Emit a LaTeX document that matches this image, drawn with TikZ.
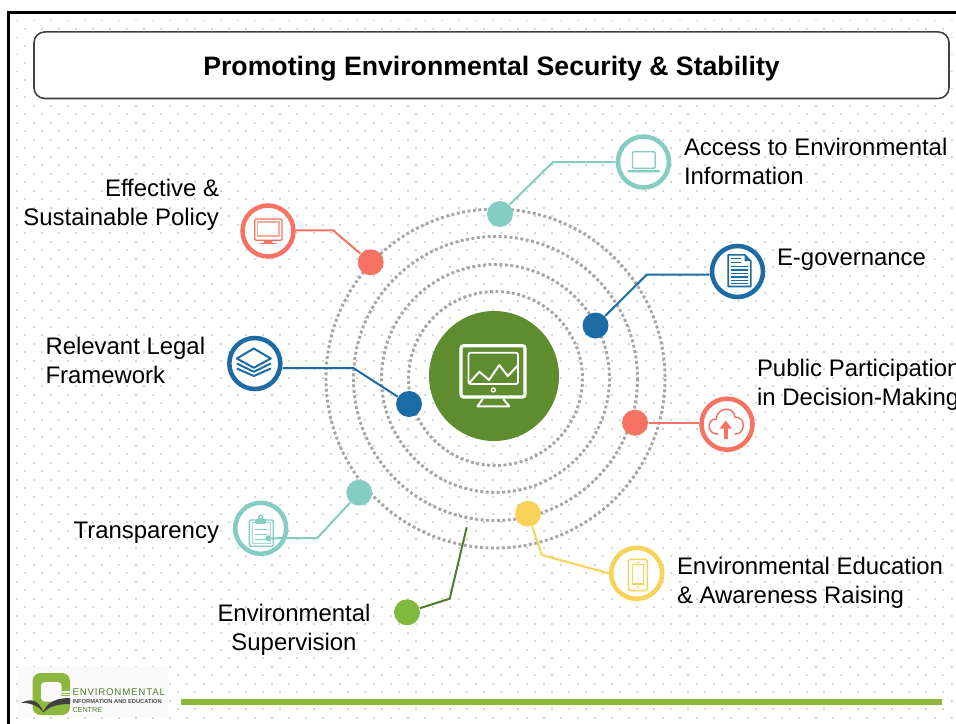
\documentclass[tikz,border=0pt]{standalone}
\usepackage{fontspec}
\setmainfont{Liberation Sans}
\definecolor{ringgray}{RGB}{166,166,166}
\definecolor{dotgray}{RGB}{214,214,214}
\definecolor{coralc}{RGB}{246,115,100}
\definecolor{tealc}{RGB}{133,204,195}
\definecolor{bluec}{RGB}{29,107,165}
\definecolor{yellowc}{RGB}{249,210,90}
\definecolor{hubgreen}{RGB}{95,140,47}
\definecolor{leafgreen}{RGB}{127,186,62}
\definecolor{stemgreen}{RGB}{78,125,46}
\definecolor{bargreen}{RGB}{141,183,63}
\tikzset{every picture/.style={line width=0.75pt}}
\tikzset{
  hubdot/.style={circle,inner sep=0pt,minimum size=26pt*0.75,fill=#1},
  iconring/.style={circle,inner sep=0pt,minimum size=51pt*0.75,fill=white,draw=#1,line width=3.4pt},
  linkline/.style={draw=#1,line width=1.5pt},
  orbit/.style={draw=ringgray,line width=2.2pt,dash pattern=on 2.2pt off 1.9pt},
  itemtext/.style={font=\fontsize{17.95}{21.75}\selectfont,inner sep=0pt,text=black},
}
\begin{document}
\begin{tikzpicture}[x=0.75pt,y=0.75pt,yscale=-1,xscale=1]
        \useasboundingbox (0,0) rectangle (956,724);
        %Background dots
        \foreach \row in {0,...,82} {
          \pgfmathsetmacro{\rowy}{20.7+8.5*\row}
          \pgfmathsetmacro{\rowx}{16.7+8.5*mod(\row,2)}
          \foreach \col in {0,...,55} {
            \fill [dotgray] ({\rowx+17*\col-0.8},{\rowy-0.8}) rectangle ++(1.6,1.6);
          }
        }
        %Page frame
        \draw [line width=2.2pt] (8.5,724) -- (8.5,12.3) -- (956,12.3);
        %Title box
        \node (titlebox) [draw=black!75,line width=1.2pt,fill=white,rounded corners=8pt,inner sep=0pt,minimum width=915*0.75pt,minimum height=66.5*0.75pt,text height=19pt,text depth=4pt,font=\fontsize{20}{24}\selectfont\bfseries] at (491.5,65.2) {Promoting Environmental Security \& Stability};
        %Orbits
        \foreach \rad in {169.5,142,114,87} {
          \draw [orbit] (495.5,378.5) circle ({\rad});
        }
        %Hub
        \node (hub) [circle,inner sep=0pt,minimum size=130*0.75pt,fill=hubgreen] at (494,376) {};
        \draw [white,line width=2.4pt,rounded corners=2pt] (461,345.7) rectangle (525,397);
        \draw [white,line width=1.3pt,rounded corners=1.5pt] (468.5,352.7) rectangle (518,384);
        \draw [white,line width=1.5pt,line join=round] (469,383.3) -- (479.3,371.7) -- (489,380) -- (499.3,365) -- (507.7,376) -- (517.3,366);
        \draw [white,line width=1pt] (493.3,390) circle (2);
        \draw [white,line width=1.5pt,line join=round] (482.7,399) -- (477.5,406.3) -- (509.3,406.3) -- (503.3,399);

        %Dots on the orbits
        \node (policydot) [hubdot=coralc] at (370.7,262.3) {};
        \node (accessdot) [hubdot=tealc] at (500,214) {};
        \node (govdot) [hubdot=bluec] at (595.5,325.5) {};
        \node (legaldot) [hubdot=bluec] at (409,404) {};
        \node (publicdot) [hubdot=coralc] at (635,422.7) {};
        \node (transdot) [hubdot=tealc] at (359.3,492.7) {};
        \node (educdot) [hubdot=yellowc] at (528,513.7) {};
        \node (superdot) [hubdot=leafgreen] at (407,612.3) {};

        %Icon rings
        \node (policyring) [iconring=coralc] at (268,231) {};
        \node (accessring) [iconring=tealc] at (643.5,162) {};
        \node (govring) [iconring=bluec] at (737.5,271.5) {};
        \node (legalring) [iconring=bluec] at (254.8,363.5) {};
        \node (publicring) [iconring=coralc] at (727,424.2) {};
        \node (transring) [iconring=tealc] at (260.7,528.3) {};
        \node (educring) [iconring=yellowc] at (636.7,573.3) {};

        %Bends of the connectors
        \coordinate (policybend) at (333,230.3);
        \coordinate (accessbend) at (553,162);
        \coordinate (govbend) at (646.7,274.7);
        \coordinate (legalbend) at (353.3,368);
        \coordinate (transbend) at (317.3,538);
        \coordinate (transend) at (268.3,538.3);
        \coordinate (educbend) at (541.7,555);
        \coordinate (superbend) at (449.7,598.7);
        \coordinate (superend) at (466.7,527.3);

        %Straight Lines
        \draw [linkline=coralc] (policydot) -- (policybend) -- (policyring.east |- policybend);
        \draw [linkline=tealc] (accessdot) -- (accessbend) -- (accessring.west);
        \draw [linkline=bluec] (govdot) -- (govbend) -- (govring.west |- govbend);
        \draw [linkline=bluec] (legaldot) -- (legalbend) -- (legalring.east |- legalbend);
        \draw [linkline=coralc] (publicdot) -- (publicring.west |- publicdot);
        \draw [linkline=tealc] (transdot) -- (transbend) -- (transend);
        \fill [tealc] (transend) circle (3);
        \draw [linkline=yellowc] (educdot) -- (educbend) -- (educring.west);
        \draw [linkline=stemgreen] (superdot) -- (superbend) -- (superend);

        %Monitor icon
        \begin{scope}[shift={(268,231)},coralc]
          \draw [line width=1pt,rounded corners=1pt] (-13.3,-12) rectangle (14,9.3);
          \draw [coralc!60,line width=0.8pt] (-10.3,-9) rectangle (11,5);
          \fill (-3,9.3) -- (-4.5,12) -- (5,12) -- (3.5,9.3) -- cycle;
          \fill (-8.3,11.8) rectangle (8.3,13);
        \end{scope}
        %Laptop icon
        \begin{scope}[shift={(643.5,162)},tealc]
          \draw [line width=1pt,rounded corners=1pt] (-11,-10.3) rectangle (11.7,6.3);
          \fill [rounded corners=0.5pt] (-16,8) rectangle (16.3,10.3);
        \end{scope}
        %Document icon
        \begin{scope}[shift={(737.5,271.5)},bluec]
          \draw [line width=1.2pt,line join=round] (-9.3,-16.7) -- (7,-16.7) -- (13.3,-10.5) -- (13.3,15) -- (-9.3,15) -- cycle;
          \fill (7,-16.7) -- (13.3,-10.5) -- (7,-10.5) -- cycle;
          \foreach \ly in {-13,-9} {
            \draw [line width=1pt] (-6.5,\ly) -- (3,\ly);
          }
          \foreach \ly in {-5,-1.5,2,5.5,9,12} {
            \draw [line width=1pt] (-6.5,\ly) -- (10.5,\ly);
          }
        \end{scope}
        %Layers icon
        \begin{scope}[shift={(254.8,363.5)},bluec,line width=1.5pt,line join=round]
          \draw (-18,-5) -- (-1,-15) -- (16,-5) -- (-1,4.3) -- cycle;
          \draw (-18,0) -- (-1,8.3) -- (16,0);
          \draw (-18,5) -- (-1,12.5) -- (16,5);
        \end{scope}
        %Clipboard icon
        \begin{scope}[shift={(260.7,528.3)},tealc]
          \draw [line width=1pt,rounded corners=1pt] (-11.3,-8.3) rectangle (12.7,18);
          \draw [tealc!70,line width=0.8pt] (-8.5,-5.5) rectangle (9.8,15.5);
          \fill [rounded corners=1pt] (-5.5,-9.5) rectangle (5.5,-4.5);
          \draw [line width=1pt] (0,-11) circle (2);
          \foreach \ly in {1,6,11} {
            \draw [line width=0.8pt] (-6,\ly) -- (6,\ly);
          }
        \end{scope}
        %Cloud icon
        \begin{scope}[shift={(727,424.2)},coralc]
          \draw [line width=1.1pt,line cap=round] (-9,10) .. controls (-21,10) and (-20,-6) .. (-11,-5) .. controls (-9,-18) and (7,-18) .. (8,-7) .. controls (19,-8) and (19,10) .. (8,10);
          \draw [line width=3pt] (-1.3,14.5) -- (-1.3,2);
          \fill (-7.5,4.3) -- (-1.3,-3.5) -- (4.9,4.3) -- cycle;
        \end{scope}
        %Phone icon
        \begin{scope}[shift={(636.7,573.3)},yellowc]
          \draw [line width=1.2pt,rounded corners=1.2pt] (-8.3,-14) rectangle (10.7,17.3);
          \draw [line width=0.8pt] (-4.3,-9) rectangle (6.7,10.7);
          \fill (1.2,14) circle (1);
          \fill (-1,-11.8) rectangle (3.4,-11);
        \end{scope}

        %Labels
        \node (policytext) [itemtext,anchor=east,align=right] at (219.5,204.5) {Effective \&\\Sustainable Policy};
        \node (accesstext) [itemtext,anchor=west,align=left] at (683.5,161) {Access to Environmental\\Information};
        \node (govtext) [itemtext,anchor=west] at (776.5,260) {E-governance};
        \node (legaltext) [itemtext,anchor=west,align=left] at (45,360.5) {Relevant Legal\\Framework};
        \node (publictext) [itemtext,anchor=west,align=left] at (756.5,385) {Public Participation\\in Decision-Making};
        \node (transtext) [itemtext,anchor=east] at (219.5,533) {Transparency};
        \node (eductext) [itemtext,anchor=west,align=left] at (676.5,583) {Environmental Education\\\& Awareness Raising};
        \node (supertext) [itemtext,align=center] at (294,629.5) {Environmental\\Supervision};

        %Logo
        \fill [black!2] (18,667) rectangle (168,717);
        \fill [bargreen,rounded corners=6pt] (32.5,673) rectangle (70,715);
        \fill [black!2,rounded corners=3pt] (41,682) rectangle (61.7,701.7);
        \fill [black!2] (61,690) rectangle (70.5,698.5);
        \foreach \ly in {690.5,693,695.5} {
          \draw [bargreen,line width=0.7pt] (61,\ly) -- (70,\ly);
        }
        \fill [black!75] (21,702.7) .. controls (32,698) and (38,700) .. (43.3,711.7) .. controls (48,701) and (58,698) .. (70,698) -- (70,704) .. controls (58,704) and (50,706) .. (43.3,712.5) .. controls (38,705) and (30,703) .. (21,702.7) -- cycle;
        \node (logotop) [anchor=west,inner sep=0pt,text=stemgreen,font=\fontsize{7.3}{8}\selectfont] at (72,692) {\addfontfeature{LetterSpace=8}ENVIRONMENTAL};
        \node (logomid) [anchor=west,inner sep=0pt,text=black!70,font=\fontsize{4.3}{5}\selectfont\bfseries] at (72,701.7) {INFORMATION AND EDUCATION};
        \node (logobot) [anchor=west,inner sep=0pt,text=stemgreen,font=\fontsize{5.4}{5}\selectfont] at (72,710) {CENTRE};
        %Bottom bar
        \fill [bargreen] (181,699) rectangle (942,705);
    \end{tikzpicture}
\end{document}
